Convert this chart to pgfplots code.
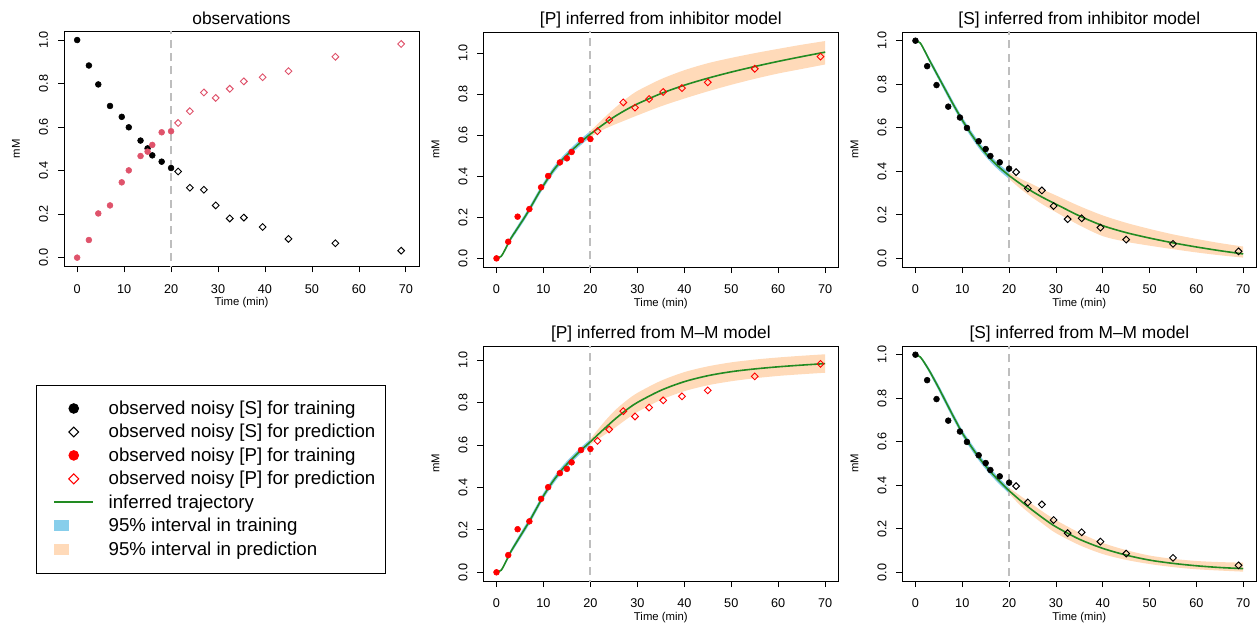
\documentclass[border=0pt]{standalone}
\usepackage{fontspec}
\setmainfont{Liberation Sans}
\usepackage{pgfplots}
\usepackage{pgfplotstable}
\pgfplotsset{compat=1.18}
\usepgfplotslibrary{fillbetween}

\definecolor{obsP}{HTML}{DF536B}
\definecolor{fitgreen}{HTML}{228B22}
\definecolor{trainband}{HTML}{87CEEB}
\definecolor{predband}{HTML}{FFDAB9}
\definecolor{vline}{HTML}{BEBEBE}

% observations
\pgfplotstableread{
t    S     P
0    1.000 0.000
2.5  0.883 0.081
4.5  0.796 0.203
7    0.697 0.240
9.5  0.647 0.346
11   0.599 0.401
13.5 0.538 0.467
15   0.502 0.487
16   0.470 0.518
18   0.441 0.576
20   0.412 0.581
}\obstrain
\pgfplotstableread{
t    S     P
21.5 0.396 0.619
24   0.321 0.673
27   0.312 0.759
29.5 0.240 0.734
32.5 0.180 0.776
35.5 0.184 0.810
39.5 0.141 0.829
45   0.086 0.857
55   0.066 0.923
69   0.032 0.982
}\obspred

% inhibitor model, [P]
\pgfplotstableread{
t  y     lo    hi
0  0.000 0.000 0.000
1  0.010 0.006 0.014
2  0.050 0.042 0.058
3  0.095 0.085 0.105
4  0.130 0.118 0.142
5  0.165 0.152 0.178
6  0.200 0.187 0.213
7  0.238 0.224 0.252
8  0.278 0.264 0.292
9  0.318 0.304 0.332
10 0.355 0.341 0.369
12 0.425 0.410 0.440
14 0.480 0.465 0.495
16 0.525 0.510 0.540
18 0.567 0.552 0.582
20 0.605 0.590 0.620
}\PinhTrain
\pgfplotstableread{
t    y     lo    hi
20   0.605 0.590 0.620
22.5 0.648 0.624 0.675
25   0.688 0.650 0.728
27.5 0.722 0.673 0.775
30   0.752 0.696 0.815
35   0.802 0.740 0.872
40   0.843 0.778 0.916
45   0.877 0.813 0.950
50   0.907 0.845 0.976
55   0.934 0.874 0.999
60   0.959 0.900 1.020
65   0.982 0.922 1.040
70   1.004 0.944 1.058
}\PinhPred

% inhibitor model, [S]
\pgfplotstableread{
t  y     lo    hi
0  1.000 1.000 1.000
1  0.990 0.986 0.994
2  0.952 0.944 0.960
3  0.910 0.900 0.920
4  0.870 0.858 0.882
5  0.830 0.818 0.842
6  0.790 0.777 0.803
7  0.750 0.736 0.764
8  0.710 0.696 0.724
9  0.672 0.658 0.686
10 0.635 0.621 0.649
12 0.568 0.553 0.583
14 0.508 0.493 0.523
16 0.458 0.443 0.473
18 0.416 0.401 0.431
20 0.380 0.365 0.395
}\SinhTrain
\pgfplotstableread{
t    y     lo    hi
20   0.380 0.365 0.395
22.5 0.341 0.318 0.365
25   0.306 0.278 0.340
27.5 0.276 0.243 0.313
30   0.249 0.212 0.289
35   0.195 0.152 0.240
40   0.150 0.102 0.197
45   0.118 0.076 0.163
50   0.093 0.058 0.135
55   0.071 0.042 0.110
60   0.052 0.027 0.089
65   0.035 0.014 0.070
70   0.020 0.003 0.054
}\SinhPred

% M-M model, [P]
\pgfplotstableread{
t  y     lo    hi
0  0.000 0.000 0.000
1  0.010 0.006 0.014
2  0.050 0.042 0.058
3  0.095 0.085 0.105
4  0.132 0.120 0.144
5  0.168 0.155 0.181
6  0.204 0.190 0.218
7  0.240 0.226 0.254
8  0.280 0.266 0.294
9  0.320 0.306 0.334
10 0.360 0.346 0.374
12 0.428 0.413 0.443
14 0.485 0.470 0.500
16 0.532 0.517 0.547
18 0.575 0.561 0.589
20 0.615 0.602 0.628
}\PmmTrain
\pgfplotstableread{
t    y     lo    hi
20   0.615 0.602 0.628
22.5 0.667 0.640 0.697
25   0.717 0.677 0.758
27.5 0.762 0.718 0.806
30   0.800 0.755 0.845
35   0.857 0.812 0.902
40   0.898 0.853 0.943
45   0.926 0.881 0.970
50   0.945 0.900 0.989
55   0.958 0.914 1.002
60   0.968 0.925 1.012
65   0.976 0.933 1.020
70   0.983 0.940 1.027
}\PmmPred

% M-M model, [S]
\pgfplotstableread{
t  y     lo    hi
0  1.000 1.000 1.000
1  0.990 0.986 0.994
2  0.960 0.952 0.968
3  0.925 0.915 0.935
4  0.886 0.874 0.898
5  0.846 0.833 0.859
6  0.804 0.790 0.818
7  0.762 0.748 0.776
8  0.720 0.706 0.734
9  0.680 0.666 0.694
10 0.640 0.626 0.654
12 0.575 0.560 0.590
14 0.515 0.500 0.530
16 0.463 0.448 0.478
18 0.417 0.403 0.431
20 0.375 0.362 0.388
}\SmmTrain
\pgfplotstableread{
t    y     lo    hi
20   0.375 0.362 0.388
22.5 0.328 0.305 0.350
25   0.285 0.260 0.312
27.5 0.245 0.218 0.274
30   0.209 0.180 0.240
35   0.152 0.125 0.182
40   0.110 0.084 0.135
45   0.079 0.057 0.102
50   0.056 0.038 0.077
55   0.041 0.024 0.062
60   0.030 0.014 0.052
65   0.022 0.008 0.047
70   0.017 0.003 0.044
}\SmmPred

\pgfplotsset{
  panel/.style={
    scale only axis, width=266.25pt, height=176.25pt,
    xmin=-2.8, xmax=72.8,
    xtick={0,10,...,70}, ytick={0,0.2,0.4,0.6,0.8,1.0},
    xtick pos=bottom, ytick pos=left,
    tick align=outside, major tick length=4.5pt,
    tick style={black, line width=0.6pt},
    axis line style={line width=0.7pt},
    /pgf/number format/assume math mode=true,
    every tick label/.append style={font=\fontsize{9.5}{11}\selectfont},
    yticklabel style={rotate=90, anchor=base,
      /pgf/number format/fixed, /pgf/number format/fixed zerofill,
      /pgf/number format/precision=1},
    xticklabel style={anchor=base},
    xticklabel shift=15.5pt,
    yticklabel shift=7.5pt,
    xlabel={Time (min)}, ylabel={mM},
    label style={font=\fontsize{8.5}{10}\selectfont},
    xlabel style={at={(axis description cs:0.5,0)}, anchor=base, yshift=-29.5pt},
    ylabel style={at={(axis description cs:-0.124,0.5)}, anchor=base},
    title style={font=\fontsize{13}{15}\selectfont,
      at={(axis description cs:0.5,1)}, anchor=base, yshift=-0.5pt},
  },
  dot/.style={only marks, mark=*, mark size=2.2pt, forget plot},
  dia/.style={only marks, mark=square, mark size=1.8pt,
    mark options={rotate=45, line width=0.7pt, fill=none}, forget plot},
  fit/.style={fitgreen, line width=1.2pt, smooth, no marks, forget plot},
  edge/.style={draw=none, smooth, no marks, forget plot},
  split/.style={vline, line width=1.6pt, dash pattern=on 6pt off 4pt, forget plot},
  legmark/.style={legend image code/.code={
    \path[draw=none, fill=none] (0pt,-4.5pt) rectangle (46.4pt,13.1pt);
    \draw[##1] plot coordinates {(20.2pt,4.5pt)};}},
  legline/.style={legend image code/.code={
    \path[draw=none, fill=none] (0pt,-4.5pt) rectangle (46.4pt,13.1pt);
    \draw[##1] (5.7pt,4.5pt) -- (34.4pt,4.5pt);}},
  legrect/.style={legend image code/.code={
    \path[draw=none, fill=none] (0pt,-4.5pt) rectangle (46.4pt,13.1pt);
    \fill[##1, draw=none] (5.2pt,0.5pt) rectangle (17pt,8.5pt);}},
}

\begin{document}
\begin{tikzpicture}

% observations
\begin{axis}[panel, at={(48pt,-23.5pt)}, anchor=north west,
  ymin=-0.04, ymax=1.04, title={observations},
  legend cell align=left,
  legend style={at={(axis description cs:-0.079,-0.503)}, anchor=north west,
    draw=black, line width=0.7pt, inner xsep=7.8pt, inner ysep=9pt,
    row sep=0pt, column sep=0pt, nodes={inner sep=0pt},
    cells={anchor=base west},
    font=\fontsize{14}{17}\selectfont}]
\addplot[split] coordinates {(20,-0.2) (20,1.2)};
\addplot[dot, black] table[x=t,y=S] {\obstrain};
\addplot[dia, black] table[x=t,y=S] {\obspred};
\addplot[dot, obsP] table[x=t,y=P] {\obstrain};
\addplot[dia, obsP] table[x=t,y=P] {\obspred};
\addlegendimage{legmark, only marks, mark=*, mark size=3.6pt, black}
\addlegendentry{observed noisy [S] for training}
\addlegendimage{legmark, only marks, mark=square, mark size=2.6pt,
  mark options={rotate=45, line width=0.8pt, fill=none}, black}
\addlegendentry{observed noisy [S] for prediction}
\addlegendimage{legmark, only marks, mark=*, mark size=3.6pt, red}
\addlegendentry{observed noisy [P] for training}
\addlegendimage{legmark, only marks, mark=square, mark size=2.6pt,
  mark options={rotate=45, line width=0.8pt, fill=none}, red}
\addlegendentry{observed noisy [P] for prediction}
\addlegendimage{legline, fitgreen, line width=1.6pt}
\addlegendentry{inferred trajectory}
\addlegendimage{legrect, fill=trainband}
\addlegendentry{95\% interval in training}
\addlegendimage{legrect, fill=predband}
\addlegendentry{95\% interval in prediction}
\end{axis}

% [P] inhibitor
\begin{axis}[panel, at={(362.5pt,-24pt)}, anchor=north west,
  ymin=-0.042, ymax=1.102, title={[P] inferred from inhibitor model}]
\addplot[split] coordinates {(20,-0.2) (20,1.2)};
\addplot[edge, name path=a1] table[x=t,y=hi] {\PinhTrain};
\addplot[edge, name path=b1] table[x=t,y=lo] {\PinhTrain};
\addplot[trainband, forget plot] fill between[of=a1 and b1];
\addplot[edge, name path=c1] table[x=t,y=hi] {\PinhPred};
\addplot[edge, name path=d1] table[x=t,y=lo] {\PinhPred};
\addplot[predband, forget plot] fill between[of=c1 and d1];
\addplot[fit] table[x=t,y=y] {\PinhTrain};
\addplot[fit] table[x=t,y=y] {\PinhPred};
\addplot[dot, red] table[x=t,y=P] {\obstrain};
\addplot[dia, red] table[x=t,y=P] {\obspred};
\end{axis}

% [S] inhibitor
\begin{axis}[panel, at={(676.75pt,-24pt)}, anchor=north west, width=265.5pt,
  ymin=-0.04, ymax=1.04, title={[S] inferred from inhibitor model}]
\addplot[split] coordinates {(20,-0.2) (20,1.2)};
\addplot[edge, name path=a2] table[x=t,y=hi] {\SinhTrain};
\addplot[edge, name path=b2] table[x=t,y=lo] {\SinhTrain};
\addplot[trainband, forget plot] fill between[of=a2 and b2];
\addplot[edge, name path=c2] table[x=t,y=hi] {\SinhPred};
\addplot[edge, name path=d2] table[x=t,y=lo] {\SinhPred};
\addplot[predband, forget plot] fill between[of=c2 and d2];
\addplot[fit] table[x=t,y=y] {\SinhTrain};
\addplot[fit] table[x=t,y=y] {\SinhPred};
\addplot[dot, black] table[x=t,y=S] {\obstrain};
\addplot[dia, black] table[x=t,y=S] {\obspred};
\end{axis}

% [P] M-M
\begin{axis}[panel, at={(362.5pt,-259.5pt)}, anchor=north west,
  ymin=-0.041, ymax=1.066, title={[P] inferred from M\textendash M model}]
\addplot[split] coordinates {(20,-0.2) (20,1.2)};
\addplot[edge, name path=a3] table[x=t,y=hi] {\PmmTrain};
\addplot[edge, name path=b3] table[x=t,y=lo] {\PmmTrain};
\addplot[trainband, forget plot] fill between[of=a3 and b3];
\addplot[edge, name path=c3] table[x=t,y=hi] {\PmmPred};
\addplot[edge, name path=d3] table[x=t,y=lo] {\PmmPred};
\addplot[predband, forget plot] fill between[of=c3 and d3];
\addplot[fit] table[x=t,y=y] {\PmmTrain};
\addplot[fit] table[x=t,y=y] {\PmmPred};
\addplot[dot, red] table[x=t,y=P] {\obstrain};
\addplot[dia, red] table[x=t,y=P] {\obspred};
\end{axis}

% [S] M-M
\begin{axis}[panel, at={(676.75pt,-259.5pt)}, anchor=north west, width=265.5pt,
  ymin=-0.04, ymax=1.04, title={[S] inferred from M\textendash M model}]
\addplot[split] coordinates {(20,-0.2) (20,1.2)};
\addplot[edge, name path=a4] table[x=t,y=hi] {\SmmTrain};
\addplot[edge, name path=b4] table[x=t,y=lo] {\SmmTrain};
\addplot[trainband, forget plot] fill between[of=a4 and b4];
\addplot[edge, name path=c4] table[x=t,y=hi] {\SmmPred};
\addplot[edge, name path=d4] table[x=t,y=lo] {\SmmPred};
\addplot[predband, forget plot] fill between[of=c4 and d4];
\addplot[fit] table[x=t,y=y] {\SmmTrain};
\addplot[fit] table[x=t,y=y] {\SmmPred};
\addplot[dot, black] table[x=t,y=S] {\obstrain};
\addplot[dia, black] table[x=t,y=S] {\obspred};
\end{axis}

\pgfresetboundingbox
\path[use as bounding box] (0pt,0pt) rectangle (942.75pt,-468pt);
\end{tikzpicture}
\end{document}
